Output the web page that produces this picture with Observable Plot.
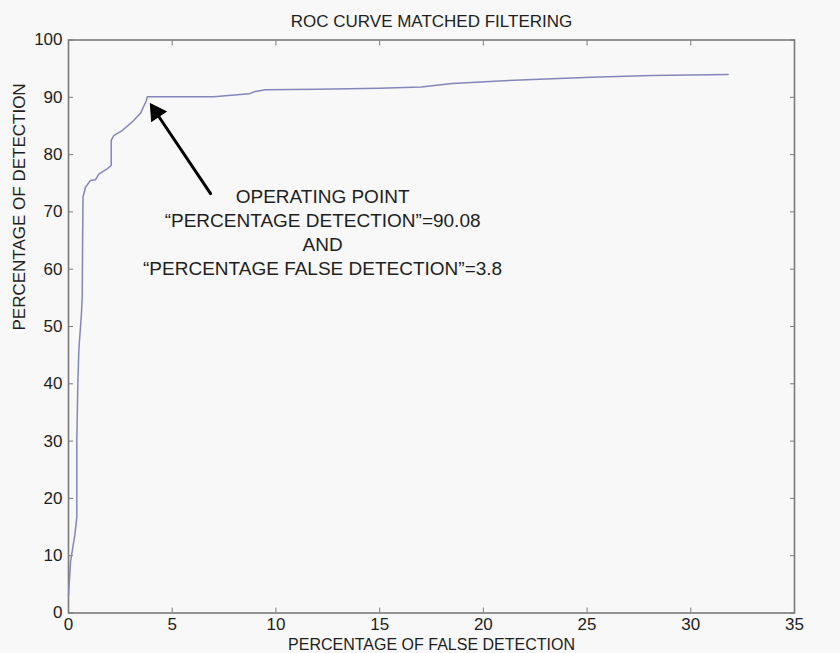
<!DOCTYPE html>
<html>
<head>
<meta charset="utf-8">
<script src="https://cdn.jsdelivr.net/npm/d3@7"></script>
<script src="https://cdn.jsdelivr.net/npm/@observablehq/plot@0.6"></script>
<style>
  html, body { margin: 0; padding: 0; background: #f8f8f8; }
  #chart svg { display: block; }
</style>
</head>
<body>
<div id="chart"></div>
<script>
// ROC curve for the matched-filtering detector
const falseDetection = [0, 0.05, 0.1, 0.3, 0.4, 0.4, 0.45, 0.5, 0.62, 0.66, 0.68, 0.7,
  0.82, 1.06, 1.3, 1.46, 1.86, 2.06, 2.06, 2.18, 2.59, 3.07, 3.47, 3.75, 3.8,
  5, 7, 8, 8.7, 9, 9.5, 12, 15, 17, 18.5, 21, 23, 25.2, 28.1, 31.8];
const detection = [3, 6, 9, 13.5, 16.7, 30, 40, 46, 52, 55, 65, 72.6,
  74.3, 75.5, 75.6, 76.6, 77.5, 78.1, 82.5, 83.3, 84.2, 85.7, 87.2, 89.4, 90.08,
  90.08, 90.1, 90.4, 90.6, 91.0, 91.3, 91.4, 91.6, 91.8, 92.4, 92.9, 93.2, 93.5, 93.8, 94.0];

// Operating point quoted in the annotation
const opFalseDetection = 3.8;
const opDetection = 90.08;

const xTicks = [0, 5, 10, 15, 20, 25, 30, 35];
const yTicks = [0, 10, 20, 30, 40, 50, 60, 70, 80, 90, 100];

const title = "ROC CURVE MATCHED FILTERING";
const xLabel = "PERCENTAGE OF FALSE DETECTION";
const yLabel = "PERCENTAGE OF DETECTION";
const noteLines = [
  "OPERATING POINT",
  `\u201CPERCENTAGE DETECTION\u201D=${opDetection}`,
  "AND",
  `\u201CPERCENTAGE FALSE DETECTION\u201D=${opFalseDetection}`
];

const curve = falseDetection.map((x, i) => ({x, y: detection[i]}));

// annotation placement (data coordinates)
const note = [{x: 12.25, y: 74.6, text: noteLines.join("\n")}];
const arrow = [{x1: 6.85, y1: 73.2, x2: 4.1, y2: 88.0}];
const arrowHead = [{x: 4.22, y: 87.4}];

const axisColor = "#7a7a7a";
const textColor = "#1e1e1e";

const chart = Plot.plot({
  width: 840,
  height: 653,
  marginLeft: 68,
  marginRight: 46,
  marginTop: 39.5,
  marginBottom: 40.5,
  style: {
    background: "transparent",
    fontFamily: "'Liberation Sans', Arial, sans-serif",
    fontSize: "17px",
    color: textColor
  },
  x: {domain: [0, 35]},
  y: {domain: [0, 100]},
  marks: [
    Plot.frame({stroke: axisColor, strokeWidth: 1.6}),
    // tick labels
    Plot.axisX({ticks: xTicks, tickSize: 0, tickPadding: 5, label: null, fontSize: 17, fill: textColor}),
    Plot.axisY({ticks: yTicks, tickSize: 0, tickPadding: 6, label: null, fontSize: 17, fill: textColor}),
    // inward ticks on all four sides
    Plot.axisX({ticks: xTicks, anchor: "bottom", tickSize: -5, tickFormat: () => "", label: null, stroke: axisColor}),
    Plot.axisX({ticks: xTicks, anchor: "top", tickSize: -5, tickFormat: () => "", label: null, stroke: axisColor}),
    Plot.axisY({ticks: yTicks, anchor: "left", tickSize: -5, tickFormat: () => "", label: null, stroke: axisColor}),
    Plot.axisY({ticks: yTicks, anchor: "right", tickSize: -5, tickFormat: () => "", label: null, stroke: axisColor}),
    // the ROC curve
    Plot.line(curve, {x: "x", y: "y", stroke: "#8585bb", strokeWidth: 1.5}),
    // operating point annotation
    Plot.arrow(arrow, {x1: "x1", y1: "y1", x2: "x2", y2: "y2", stroke: "#000", strokeWidth: 3, headLength: 0}),
    Plot.dot(arrowHead, {x: "x", y: "y", symbol: "triangle", r: 6.5, fill: "#000", stroke: "#000", strokeWidth: 1, rotate: -34}),
    Plot.text(note, {x: "x", y: "y", text: "text", lineAnchor: "top", textAnchor: "middle",
      fontSize: 19, lineHeight: 24 / 19, fill: textColor}),
    // title and axis labels
    Plot.text([title], {frameAnchor: "top", dy: -13, lineAnchor: "bottom", fontSize: 17, fill: textColor}),
    Plot.text([xLabel], {frameAnchor: "bottom", dy: 36.5, lineAnchor: "bottom", fontSize: 16, fill: textColor}),
    Plot.text([yLabel], {frameAnchor: "left", rotate: -90, dx: -44, dy: 4, lineAnchor: "bottom", fontSize: 17, fill: textColor})
  ]
});

document.getElementById("chart").append(chart);
</script>
</body>
</html>
